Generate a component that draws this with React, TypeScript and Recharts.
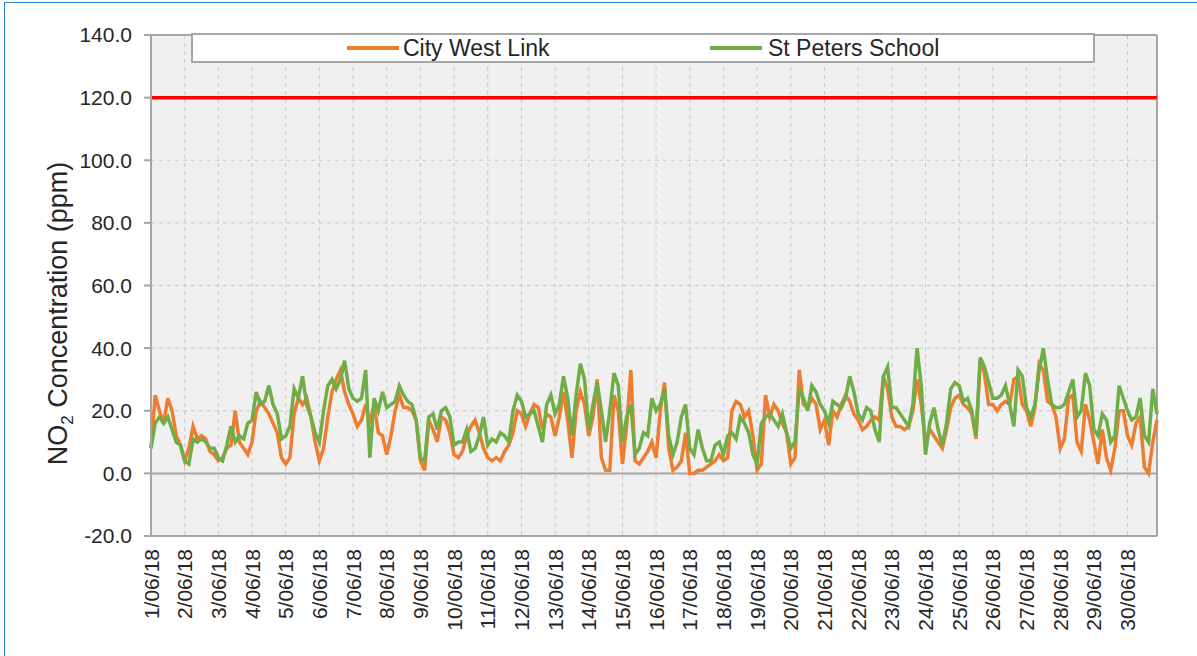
import {
  LineChart,
  Line,
  XAxis,
  YAxis,
  CartesianGrid,
  ReferenceLine,
  Legend,
  Label,
} from "recharts";

const dayLabels = [
  "1/06/18", "2/06/18", "3/06/18", "4/06/18", "5/06/18", "6/06/18",
  "7/06/18", "8/06/18", "9/06/18", "10/06/18", "11/06/18", "12/06/18",
  "13/06/18", "14/06/18", "15/06/18", "16/06/18", "17/06/18", "18/06/18",
  "19/06/18", "20/06/18", "21/06/18", "22/06/18", "23/06/18", "24/06/18",
  "25/06/18", "26/06/18", "27/06/18", "28/06/18", "29/06/18", "30/06/18",
];

// readings every 3 hours through each day
const slotHours = [0, 3, 6, 9, 12, 15, 18, 21];

// NO2 (ppm), one line per day
const cityWestLink = [
  8, 25, 20, 16, 24, 20, 12, 9,
  4, 8, 15, 11, 12, 11, 7, 6,
  4, 5, 8, 9, 20, 10, 8, 6,
  10, 20, 23, 21, 19, 16, 13, 5,
  3, 5, 19, 24, 22, 24, 18, 10,
  4, 8, 18, 26, 30, 33, 26, 22,
  19, 15, 17, 22, 16, 22, 13, 12,
  6, 12, 20, 25, 21, 21, 20, 17,
  4, 1, 17, 14, 10, 18, 17, 13,
  6, 5, 7, 12, 15, 17, 13, 8,
  5, 4, 5, 4, 7, 9, 13, 20,
  19, 15, 19, 22, 21, 14, 19, 18,
  12, 18, 26, 17, 5, 20, 26, 22,
  12, 18, 30, 5, 1, 1, 25, 20,
  3, 15, 33, 4, 3, 5, 7, 10,
  5, 20, 29, 8, 1, 2, 4, 13,
  0, 0, 1, 1, 2, 3, 4, 6,
  4, 5, 20, 23, 22, 18, 20, 12,
  1, 3, 25, 18, 22, 20, 16, 13,
  3, 5, 33, 22, 21, 24, 22, 14,
  17, 9, 20, 18, 22, 25, 23, 19,
  17, 14, 15, 17, 18, 17, 31, 27,
  18, 15, 15, 14, 15, 20, 30, 22,
  10, 14, 12, 10, 8, 14, 21, 24,
  25, 22, 21, 19, 11, 36, 32, 22,
  22, 20, 22, 23, 22, 30, 31, 22,
  20, 15, 21, 35, 33, 23, 22, 18,
  8, 11, 24, 25, 10, 7, 22, 17,
  10, 3, 14, 5, 1, 8, 20, 20,
  12, 9, 16, 18, 2, 0, 10, 17,
];

const stPetersSchool = [
  8, 16, 18, 16, 18, 14, 10, 9,
  4, 3, 11, 10, 11, 10, 8, 8,
  5, 4, 9, 15, 10, 12, 11, 16,
  17, 26, 22, 23, 28, 22, 19, 11,
  12, 15, 27, 24, 31, 22, 18, 13,
  10, 20, 28, 30, 27, 30, 36, 27,
  24, 23, 24, 33, 5, 24, 20, 26,
  21, 22, 23, 28, 25, 23, 22, 17,
  5, 4, 18, 19, 14, 20, 21, 18,
  9, 10, 10, 14, 7, 8, 12, 18,
  9, 11, 10, 13, 12, 10, 20, 25,
  23, 18, 19, 20, 15, 10, 22, 25,
  19, 22, 31, 24, 12, 25, 35, 30,
  14, 22, 29, 20, 10, 20, 32, 28,
  10, 18, 22, 6, 8, 13, 12, 24,
  20, 22, 27, 12, 6, 10, 18, 22,
  8, 6, 14, 8, 4, 4, 9, 10,
  6, 12, 13, 11, 18, 16, 13, 6,
  3, 16, 18, 19, 17, 15, 19, 13,
  8, 10, 27, 24, 20, 28, 26, 22,
  20, 16, 23, 22, 21, 24, 31, 26,
  19, 17, 21, 20, 14, 10, 31, 34,
  21, 21, 19, 17, 15, 22, 40, 28,
  6, 16, 21, 14, 9, 16, 27, 29,
  28, 23, 24, 20, 12, 37, 34, 29,
  24, 24, 25, 28, 22, 15, 33, 31,
  21, 18, 22, 33, 40, 30, 22, 21,
  21, 22, 26, 30, 18, 20, 32, 28,
  14, 12, 19, 17, 10, 12, 28, 24,
  20, 17, 18, 24, 12, 10, 27, 19,
];

const yTicks = [-20, 0, 20, 40, 60, 80, 100, 120, 140];
const limitValue = 120;

const rows = cityWestLink.map((v, i) => ({
  t: Math.floor(i / slotHours.length) + slotHours[i % slotHours.length] / 24,
  cwl: v,
  sps: stPetersSchool[i],
}));
const lastT = rows[rows.length - 1].t;
const dayTicks = dayLabels.map((_, i) => i);

const FONT = '"Liberation Sans", Arial, sans-serif';
const TEXT = "#262626";
const AXIS = "#A6A6A6";

const DateTick = ({ x, y, payload }: any) => (
  <text
    x={x}
    y={y}
    transform={`rotate(-90, ${x}, ${y})`}
    textAnchor="end"
    dy="0.36em"
    fontSize={21}
    fontFamily={FONT}
    fill={TEXT}
  >
    {dayLabels[payload.value]}
  </text>
);

const AxisTitle = ({ viewBox }: any) => {
  const cx = 67;
  const cy = viewBox.y + viewBox.height / 2 + 28;
  return (
    <text
      x={cx}
      y={cy}
      transform={`rotate(-90, ${cx}, ${cy})`}
      textAnchor="middle"
      fontSize={27}
      fontFamily={FONT}
      fill={TEXT}
    >
      NO
      <tspan fontSize={17} dy={6}>
        2
      </tspan>
      <tspan dy={-6}> Concentration (ppm)</tspan>
    </text>
  );
};

const LegendBox = ({ payload }: any) => {
  const spots = [
    { line: 154, text: 210 },
    { line: 517, text: 575 },
  ];
  return (
    <div
      style={{
        position: "relative",
        width: "100%",
        height: "100%",
        boxSizing: "border-box",
        background: "#ffffff",
        border: `2px solid ${AXIS}`,
        fontFamily: FONT,
        fontSize: 23,
        color: TEXT,
      }}
    >
      {(payload || []).map((p: any, i: number) => (
        <div key={p.value}>
          <div
            style={{
              position: "absolute",
              left: spots[i].line,
              top: 11,
              width: 52,
              height: 4,
              background: p.color,
            }}
          />
          <div
            style={{
              position: "absolute",
              left: spots[i].text,
              top: 0,
              lineHeight: "26px",
              whiteSpace: "nowrap",
            }}
          >
            {p.value}
          </div>
        </div>
      ))}
    </div>
  );
};

export default function App() {
  return (
    <div
      style={{
        position: "absolute",
        left: 0,
        top: 0,
        width: 1197,
        height: 656,
        overflow: "hidden",
        background: "#ffffff",
      }}
    >
      <div
        style={{
          position: "absolute",
          left: 4,
          top: 2,
          width: 1300,
          height: 700,
          border: "1px solid #2F86D6",
        }}
      />
      <LineChart
        width={1197}
        height={656}
        data={rows}
        margin={{ top: 35, right: 40, bottom: 20, left: 0 }}
        style={{ position: "absolute", left: 0, top: 0 }}
      >
        <CartesianGrid
          fill="#F0F0F0"
          stroke="#C8C8C8"
          strokeDasharray="4 4"
        />
        <XAxis
          type="number"
          dataKey="t"
          domain={[0, lastT]}
          ticks={dayTicks}
          interval={0}
          tick={<DateTick />}
          tickLine={false}
          tickSize={0}
          tickMargin={13}
          axisLine={{ stroke: AXIS, strokeWidth: 2 }}
          height={100}
        />
        <YAxis
          domain={[-20, 140]}
          ticks={yTicks}
          interval={0}
          width={151}
          tickSize={7}
          tickMargin={12}
          tickFormatter={(v: number) => v.toFixed(1)}
          tick={{ fontSize: 21, fill: TEXT, fontFamily: FONT }}
          tickLine={{ stroke: AXIS, strokeWidth: 2 }}
          axisLine={{ stroke: AXIS, strokeWidth: 2 }}
        >
          <Label content={<AxisTitle />} />
        </YAxis>
        <ReferenceLine y={140} stroke={AXIS} strokeWidth={2} />
        <ReferenceLine x={lastT} stroke={AXIS} strokeWidth={2} />
        <ReferenceLine y={0} stroke={AXIS} strokeWidth={2} />
        <Legend
          verticalAlign="middle"
          align="center"
          content={<LegendBox />}
          wrapperStyle={{ left: 191, top: 33, width: 904, height: 30 }}
        />
        <Line
          name="City West Link"
          dataKey="cwl"
          type="linear"
          stroke="#ED7D31"
          strokeWidth={3.5}
          dot={false}
          isAnimationActive={false}
        />
        <Line
          name="St Peters School"
          dataKey="sps"
          type="linear"
          stroke="#70AD47"
          strokeWidth={3.5}
          dot={false}
          isAnimationActive={false}
        />
        <ReferenceLine y={limitValue} stroke="#FF0000" strokeWidth={3.5} />
      </LineChart>
    </div>
  );
}
